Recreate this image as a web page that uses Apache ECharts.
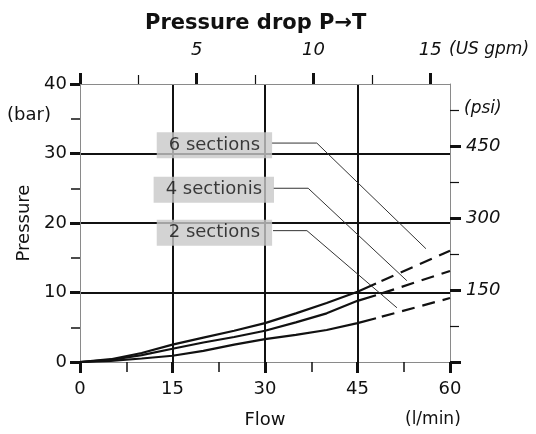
<!DOCTYPE html>
<html>
<head>
<meta charset="utf-8">
<script src="https://cdn.jsdelivr.net/npm/echarts@6/dist/echarts.min.js"></script>
<style>
html,body{margin:0;padding:0;background:#fff;}
#chart{width:536px;height:434px;}
</style>
</head>
<body>
<div id="chart"></div>
<script>
// ---- data (flow in l/min, pressure in bar) ----
const flowSolid = [0, 5, 10, 15, 20, 25, 30, 35, 40, 45, 48];
const sixSolid  = [0, 0.4, 1.3, 2.5, 3.5, 4.5, 5.6, 7.0, 8.5, 10.1, 11.3];
const fourSolid = [0, 0.3, 1.0, 1.9, 2.8, 3.6, 4.5, 5.7, 7.0, 8.8, 9.6];
const twoSolid  = [0, 0.15, 0.5, 0.9, 1.6, 2.5, 3.3, 3.9, 4.6, 5.6, 6.3];
const flowDash  = [48, 60];
const sixDash   = [11.3, 16.0];
const fourDash  = [9.6, 13.1];
const twoDash   = [6.3, 9.2];

const flowTicks = [0, 15, 30, 45, 60];
const barTicks  = [0, 10, 20, 30, 40];
const gpmMajor  = [0, 5, 10, 15];
const gpmMinor  = [2.5, 7.5, 12.5];
const gpmLabels = [5, 10, 15];
const psiMajor  = [0, 150, 300, 450];
const psiMinor  = [75, 225, 375, 525];
const psiLabels = [150, 300, 450];

const sectionNames = ['6 sections', '4 sectionis', '2 sections'];
const sectionLabelX = [21.8, 21.7, 21.8];
const sectionLabelY = [31.2, 24.8, 18.6];
const leader6 = [[31.1, 31.5], [38.4, 31.5], [56.1, 16.3]];
const leader4 = [[31.3, 25.0], [37.0, 25.0], [53.0, 11.7]];
const leader2 = [[31.3, 18.9], [36.8, 18.9], [51.4, 7.8]];

const L_PER_GPM = 3.78541;
const PSI_PER_BAR = 14.5038;

const FONT = "'DejaVu Sans', 'Liberation Sans', Arial, sans-serif";
const AX_GRAY = '#8a8a8a';
const INK = '#111';

function zip(xs, ys) { return xs.map((x, i) => [x, ys[i]]); }

const chart = echarts.init(document.getElementById('chart'), null, {renderer: 'canvas'});

function curve(name, xs, ys, dashed) {
  return {
    type: 'line', name: name, data: zip(xs, ys),
    xAxisIndex: 0, yAxisIndex: 0,
    symbol: 'none', smooth: false, z: 5,
    lineStyle: {color: INK, width: 2.2, type: dashed ? [13, 8] : 'solid', dashOffset: dashed ? -6 : 0},
    silent: true, animation: false
  };
}
function leader(pts) {
  return {
    type: 'line', data: pts, xAxisIndex: 0, yAxisIndex: 0,
    symbol: 'none', z: 4,
    lineStyle: {color: '#333', width: 1},
    silent: true, animation: false
  };
}

const option = {
  animation: false,
  textStyle: {fontFamily: FONT},
  title: {
    text: 'Pressure drop P\u2192T',
    left: 145, top: 13, padding: 0,
    textStyle: {fontFamily: FONT, fontSize: 21, fontWeight: 'bold', color: INK}
  },
  grid: {left: 80, top: 84, width: 370, height: 278, containLabel: false},
  xAxis: [
    {
      type: 'value', position: 'bottom', min: flowTicks[0], max: flowTicks[flowTicks.length - 1], interval: 15,
      axisLine: {show: true, onZero: false, lineStyle: {color: AX_GRAY, width: 1}},
      axisTick: {show: true, length: 11, lineStyle: {color: INK, width: 3}},
      minorTick: {show: true, splitNumber: 2, length: 10, lineStyle: {color: INK, width: 1.5}},
      axisLabel: {margin: 18, fontSize: 18, color: INK, fontFamily: FONT},
      splitLine: {show: true, showMinLine: false, showMaxLine: false, lineStyle: {color: INK, width: 2}},
      name: 'Flow', nameLocation: 'middle', nameGap: 49,
      nameTextStyle: {fontSize: 18, color: INK, fontFamily: FONT}
    },
    {
      type: 'value', position: 'top', min: 0, max: 60 / L_PER_GPM,
      axisLine: {show: true, onZero: false, lineStyle: {color: AX_GRAY, width: 1}},
      axisTick: {show: true, customValues: gpmMajor, length: 11, lineStyle: {color: INK, width: 3}},
      axisLabel: {show: true, customValues: gpmLabels, margin: 25, fontSize: 18, fontStyle: 'italic', color: INK, fontFamily: FONT},
      splitLine: {show: false}
    },
    {
      type: 'value', position: 'top', min: 0, max: 60 / L_PER_GPM,
      axisLine: {show: false, onZero: false},
      axisTick: {show: true, customValues: gpmMinor, length: 9, lineStyle: {color: INK, width: 1.2}},
      axisLabel: {show: false},
      splitLine: {show: false}
    }
  ],
  yAxis: [
    {
      type: 'value', position: 'left', min: barTicks[0], max: barTicks[barTicks.length - 1], interval: 10,
      axisLine: {show: true, onZero: false, lineStyle: {color: AX_GRAY, width: 1}},
      axisTick: {show: true, length: 10, lineStyle: {color: INK, width: 3}},
      minorTick: {show: true, splitNumber: 2, length: 9, lineStyle: {color: INK, width: 1.5}},
      axisLabel: {margin: 13, fontSize: 18, color: INK, fontFamily: FONT},
      splitLine: {show: true, showMinLine: false, showMaxLine: false, lineStyle: {color: INK, width: 2}},
      name: 'Pressure', nameLocation: 'middle', nameGap: 43, nameRotate: 90,
      nameTextStyle: {fontSize: 18, color: INK, fontFamily: FONT}
    },
    {
      type: 'value', position: 'right', min: 0, max: 40 * PSI_PER_BAR,
      axisLine: {show: true, onZero: false, lineStyle: {color: AX_GRAY, width: 1}},
      axisTick: {show: true, customValues: psiMajor, length: 11, lineStyle: {color: INK, width: 3}},
      axisLabel: {show: true, customValues: psiLabels, margin: 16, fontSize: 18, fontStyle: 'italic', color: INK, fontFamily: FONT},
      splitLine: {show: false}
    },
    {
      type: 'value', position: 'right', min: 0, max: 40 * PSI_PER_BAR,
      axisLine: {show: false, onZero: false},
      axisTick: {show: true, customValues: psiMinor, length: 9, lineStyle: {color: INK, width: 1.2}},
      axisLabel: {show: false},
      splitLine: {show: false}
    }
  ],
  graphic: [
    {type: 'text', left: 449, top: 41, style: {text: '(US gpm)', font: 'italic 17px ' + FONT, fill: INK}},
    {type: 'text', left: 464, top: 100, style: {text: '(psi)', font: 'italic 17px ' + FONT, fill: INK}},
    {type: 'text', left: 7, top: 106, style: {text: '(bar)', font: '18px ' + FONT, fill: INK}},
    {type: 'text', left: 405, top: 411, style: {text: '(l/min)', font: '17px ' + FONT, fill: INK}}
  ],
  series: [
    curve('6 sections', flowSolid, sixSolid, false),
    curve('4 sectionis', flowSolid, fourSolid, false),
    curve('2 sections', flowSolid, twoSolid, false),
    curve('6 sections dashed', flowDash, sixDash, true),
    curve('4 sectionis dashed', flowDash, fourDash, true),
    curve('2 sections dashed', flowDash, twoDash, true),
    leader(leader6), leader(leader4), leader(leader2),
    {
      type: 'scatter', xAxisIndex: 0, yAxisIndex: 0, z: 10,
      symbol: 'rect', symbolSize: 1, itemStyle: {color: 'rgba(0,0,0,0)'},
      data: sectionNames.map((n, i) => ({name: n, value: [sectionLabelX[i], sectionLabelY[i]]})),
      label: {
        show: true, position: 'inside', formatter: '{b}',
        fontSize: 18, color: INK, fontFamily: FONT,
        backgroundColor: '#c8c8c8', padding: [4, 12, 4, 12]
      },
      silent: true, animation: false
    }
  ]
};
chart.setOption(option);
</script>
</body>
</html>
